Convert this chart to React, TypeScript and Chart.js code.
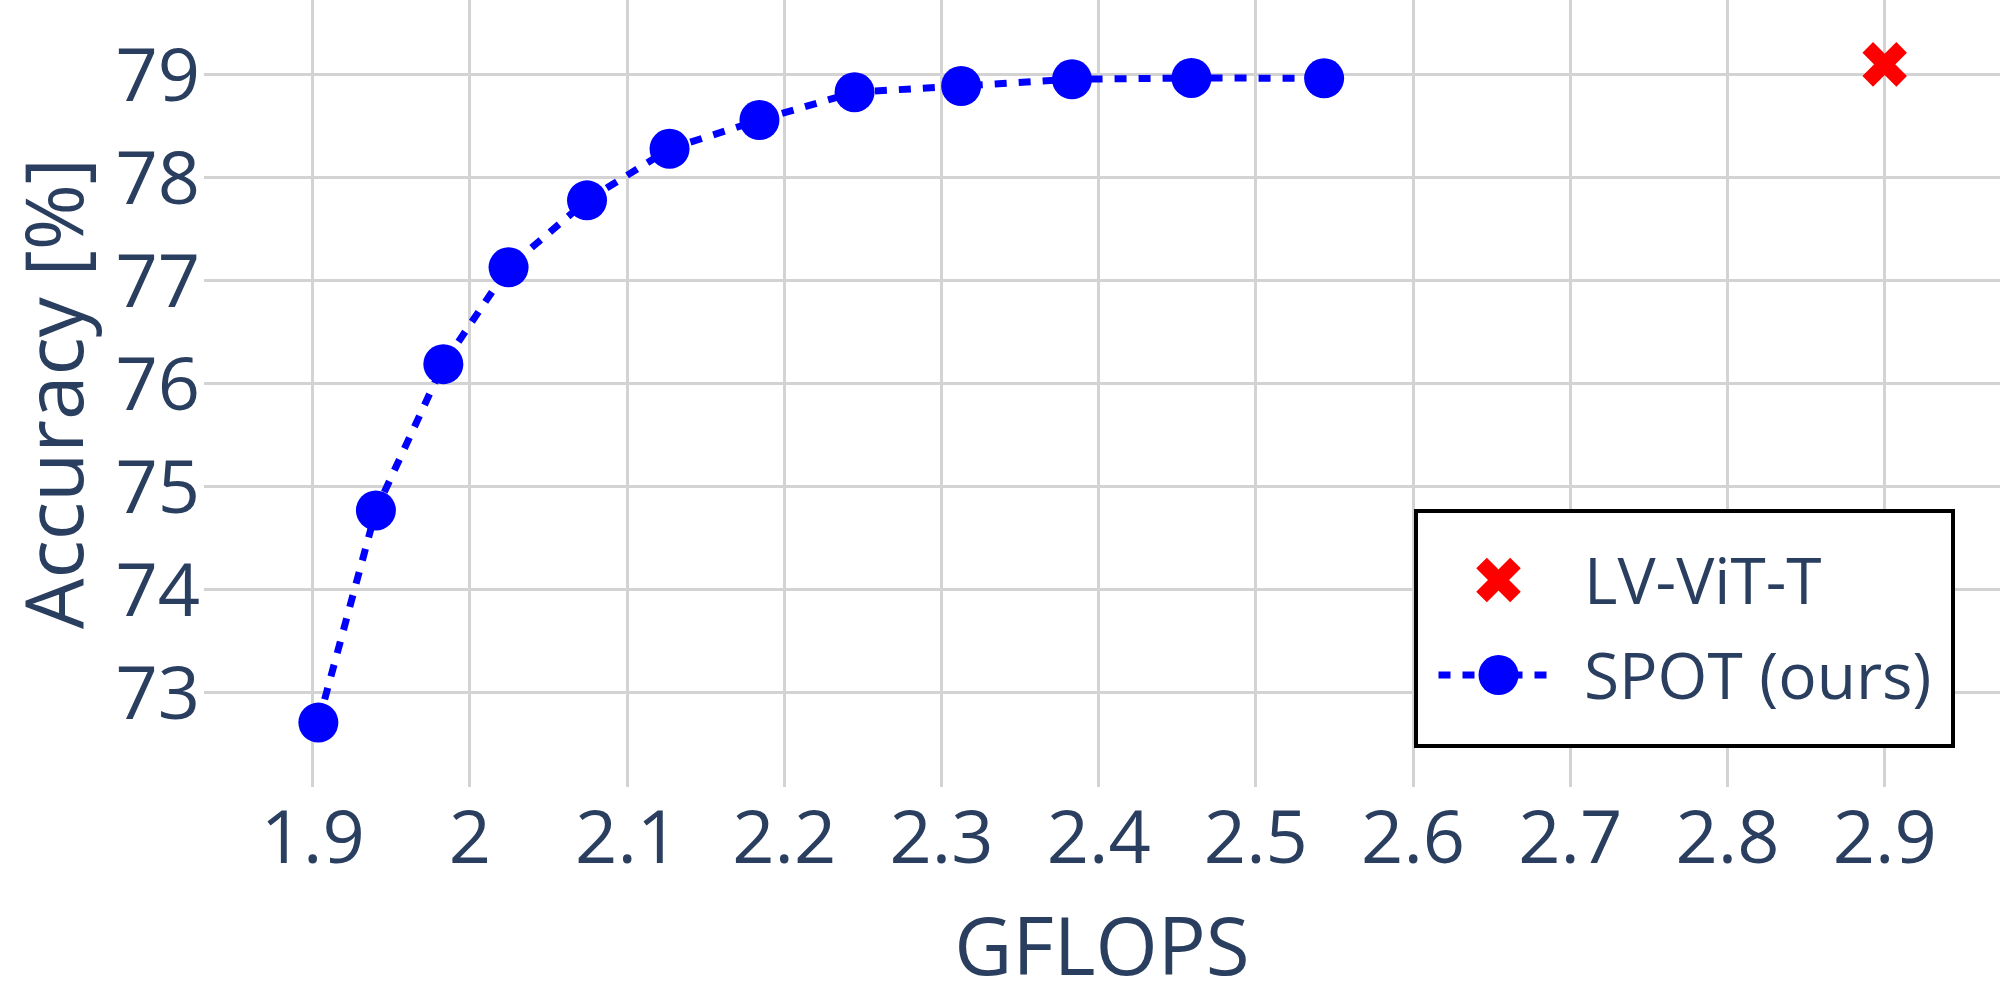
import React, { useEffect, useRef } from 'react';
import { Chart, registerables } from 'chart.js';

Chart.register(...registerables);

// ---- data ----
const seriesNames = ['LV-ViT-T', 'SPOT (ours)'];
const lvvitGflops = [2.9];
const lvvitAccuracy = [79.1];
const spotGflops = [1.9036, 1.9402, 1.9831, 2.0246, 2.0745, 2.127, 2.1842, 2.2447, 2.3125, 2.383, 2.459, 2.5434];
const spotAccuracy = [72.71, 74.77, 76.19, 77.13, 77.78, 78.28, 78.56, 78.83, 78.89, 78.955, 78.968, 78.965];
const xTickValues = [1.9, 2.0, 2.1, 2.2, 2.3, 2.4, 2.5, 2.6, 2.7, 2.8, 2.9];
const xTickLabels = ['1.9', '2', '2.1', '2.2', '2.3', '2.4', '2.5', '2.6', '2.7', '2.8', '2.9'];
const yTickValues = [73, 74, 75, 76, 77, 78, 79];
const yTickLabels = ['73', '74', '75', '76', '77', '78', '79'];
const xTitle = 'GFLOPS';
const yTitle = 'Accuracy [%]';
const xRange = [1.83085, 2.97335];
const yRange = [72.085, 79.725];

const FONT = "'Open Sans', sans-serif";
const TEXT = '#2a3f5f';
const GRID = '#d3d3d3';

const boxLegend = {
  id: 'boxLegend',
  afterDatasetsDraw(chart: any) {
    const ctx = chart.ctx as CanvasRenderingContext2D;
    const ds = chart.data.datasets;
    const bx = 1416, by = 511, bw = 537, bh = 235;
    ctx.save();
    ctx.fillStyle = '#ffffff';
    ctx.strokeStyle = '#000000';
    ctx.lineWidth = 4;
    ctx.beginPath();
    ctx.rect(bx, by, bw, bh);
    ctx.fill();
    ctx.stroke();

    const symX = 1498.5;
    const rows = [580, 675];
    const textRows = [586, 681];
    const textX = 1584;

    // row 1: x marker
    {
      const d = ds[0];
      const cy = rows[0];
      const off = Math.cos(Math.PI / 4) * d.pointRadius;
      ctx.strokeStyle = d.pointBorderColor;
      ctx.lineWidth = d.pointBorderWidth;
      ctx.lineCap = 'butt';
      ctx.setLineDash([]);
      ctx.beginPath();
      ctx.moveTo(symX - off, cy - off);
      ctx.lineTo(symX + off, cy + off);
      ctx.moveTo(symX + off, cy - off);
      ctx.lineTo(symX - off, cy + off);
      ctx.stroke();
    }
    // row 2: dashed line + circle
    {
      const d = ds[1];
      const cy = rows[1];
      ctx.strokeStyle = d.borderColor;
      ctx.lineWidth = d.borderWidth;
      ctx.setLineDash(d.borderDash);
      ctx.beginPath();
      ctx.moveTo(1438.5, cy);
      ctx.lineTo(1547, cy);
      ctx.stroke();
      ctx.setLineDash([]);
      ctx.fillStyle = d.pointBackgroundColor;
      ctx.beginPath();
      ctx.arc(symX, cy, d.pointRadius, 0, Math.PI * 2);
      ctx.fill();
    }
    ctx.fillStyle = TEXT;
    ctx.font = `64px ${FONT}`;
    ctx.textAlign = 'left';
    ctx.textBaseline = 'middle';
    ds.forEach((d: any, i: number) => {
      ctx.fillText(d.label, textX, textRows[i]);
    });
    ctx.restore();
  },
};

export default function App() {
  const ref = useRef<HTMLCanvasElement | null>(null);

  useEffect(() => {
    document.body.style.margin = '0';
    const canvas = ref.current;
    if (!canvas) return;
    const chart = new Chart(canvas, {
      type: 'scatter',
      data: {
        datasets: [
          {
            label: seriesNames[0],
            data: lvvitGflops.map((x, i) => ({ x, y: lvvitAccuracy[i] })),
            pointStyle: 'crossRot',
            pointRadius: 24,
            pointBorderWidth: 15,
            pointBorderColor: '#ff0000',
            pointBackgroundColor: '#ff0000',
            showLine: false,
            clip: false,
          } as any,
          {
            label: seriesNames[1],
            data: spotGflops.map((x, i) => ({ x, y: spotAccuracy[i] })),
            showLine: true,
            borderColor: '#0000ff',
            borderWidth: 7,
            borderDash: [12, 12],
            tension: 0,
            pointStyle: 'circle',
            pointRadius: 20,
            pointBorderWidth: 0,
            pointBackgroundColor: '#0000ff',
            pointBorderColor: '#0000ff',
            clip: false,
          } as any,
        ],
      },
      options: {
        animation: false,
        responsive: false,
        events: [],
        layout: { padding: 0, autoPadding: false },
        plugins: {
          legend: { display: false },
          tooltip: { enabled: false },
        },
        scales: {
          x: {
            type: 'linear',
            min: xRange[0],
            max: xRange[1],
            afterBuildTicks: (s: any) => {
              s.ticks = xTickValues.map((v) => ({ value: v }));
            },
            afterFit: (s: any) => {
              s.height = 213;
              s.paddingLeft = 0;
              s.paddingRight = 0;
              s.paddingTop = 0;
              s.paddingBottom = 0;
            },
            grid: { color: GRID, lineWidth: 3, drawTicks: false },
            border: { display: false },
            ticks: {
              autoSkip: false,
              maxRotation: 0,
              padding: 11,
              color: TEXT,
              font: { family: FONT, size: 74, lineHeight: 1.2 },
              callback: (_v: any, i: number) => xTickLabels[i],
            },
            title: {
              display: true,
              text: xTitle,
              color: TEXT,
              font: { family: FONT, size: 80, lineHeight: 1 },
              padding: { top: 0, bottom: 8 },
            },
          },
          y: {
            type: 'linear',
            min: yRange[0],
            max: yRange[1],
            afterBuildTicks: (s: any) => {
              s.ticks = yTickValues.map((v) => ({ value: v }));
            },
            afterFit: (s: any) => {
              s.width = 204;
              s.paddingLeft = 0;
              s.paddingRight = 0;
              s.paddingTop = 0;
              s.paddingBottom = 0;
            },
            grid: { color: GRID, lineWidth: 3, drawTicks: false },
            border: { display: false },
            ticks: {
              autoSkip: false,
              padding: 4,
              labelOffset: 5,
              color: TEXT,
              font: { family: FONT, size: 74, lineHeight: 1.2 },
              callback: (_v: any, i: number) => yTickLabels[i],
            },
            title: {
              display: true,
              text: yTitle,
              color: TEXT,
              font: { family: FONT, size: 80, lineHeight: 1 },
              padding: { top: 20, bottom: 0 },
            },
          },
        },
      },
      plugins: [boxLegend],
    });
    return () => chart.destroy();
  }, []);

  return (
    <div style={{ position: 'absolute', left: 0, top: 0, width: 2000, height: 1000, background: '#ffffff' }}>
      <canvas ref={ref} width={2000} height={1000} style={{ display: 'block', width: 2000, height: 1000 }} />
    </div>
  );
}
